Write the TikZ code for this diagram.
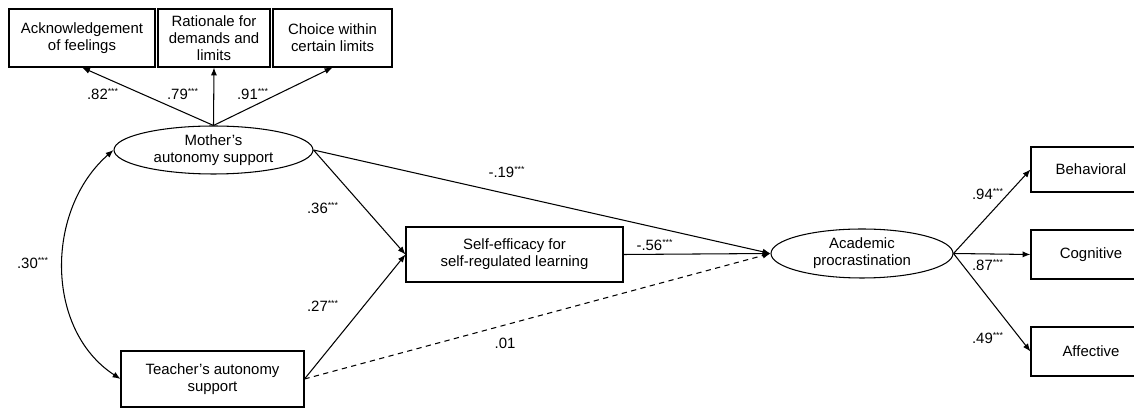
\documentclass[tikz,border=0pt]{standalone}
\usepackage{fontspec}
\setmainfont{Liberation Sans}
\usetikzlibrary{shapes.geometric,arrows.meta}

\tikzset{
  box/.style={draw, rectangle, inner sep=1pt, align=center, font=\fontsize{8.5}{9.8}\selectfont},
  latent/.style={draw, ellipse, inner sep=0pt, align=center, font=\fontsize{8.5}{9.8}\selectfont},
  path/.style={-{Latex[length=4.5pt,width=3.5pt]}, line width=0.6pt},
  coef/.style={font=\fontsize{8.5}{9.8}\selectfont, inner sep=0pt}
}
\newcommand{\sig}{\textsuperscript{\fontsize{5}{5}\selectfont***}}

\begin{document}
\begin{tikzpicture}[x=0.02cm, y=-0.02cm, line width=0.6pt]
			\useasboundingbox (0,0) rectangle (1134,408);

			% Indicators of mother's autonomy support
			\node[box, minimum width=2.92cm, minimum height=1.16cm] (ack) at (82,38) {Acknowledgement\\of feelings};
			\node[box, minimum width=2.24cm, minimum height=1.16cm] (rat) at (214,38) {Rationale for\\demands and\\limits};
			\node[box, minimum width=2.38cm, minimum height=1.16cm] (cho) at (332.5,38) {Choice within\\certain limits};

			% Latent variables and observed variables
			\node[latent, minimum width=3.98cm, minimum height=0.96cm] (mother) at (213.5,150) {Mother's\\autonomy support};
			\node[box, minimum width=3.66cm, minimum height=1.12cm] (teacher) at (212.5,379) {Teacher's autonomy\\support};
			\node[box, minimum width=4.34cm, minimum height=1.10cm] (self) at (514.5,254.5) {Self-efficacy for\\self-regulated learning};
			\node[latent, minimum width=3.64cm, minimum height=0.98cm] (acad) at (862,253.5) {Academic\\procrastination};

			% Indicators of academic procrastination
			\node[box, minimum width=2.4cm, minimum height=0.9cm] (beh) at (1091,169.5) {Behavioral};
			\node[box, minimum width=2.4cm, minimum height=0.98cm] (cog) at (1091,254.5) {Cognitive};
			\node[box, minimum width=2.4cm, minimum height=0.98cm] (aff) at (1091,351.5) {Affective};

			% Loadings
			\draw[path] (mother.north) -- (ack.south);
			\draw[path] (mother.north) -- (rat.south);
			\draw[path] (mother.north) -- (cho.south);
			\draw[path] (acad.east) -- (beh.west);
			\draw[path] (acad.east) -- (cog.west);
			\draw[path] (acad.east) -- (aff.west);

			% Structural paths
			\draw[path] (mother.east) -- (self.west);
			\draw[path] (teacher.east) -- (self.west);
			\draw[path] (mother.east) -- (acad.west);
			\draw[path] (self.east) -- (acad.west);
			\draw[path, dash pattern=on 3pt off 2.5pt] (teacher.east) -- (acad.west);

			% Covariance
			\draw[{Latex[length=4.5pt,width=3.5pt]}-{Latex[length=4.5pt,width=3.5pt]}] (mother.west) .. controls (45,210) and (45,330) .. (teacher.west);

			% Coefficients
			\node[coef] (l82) at (103,94) {.82\sig};
			\node[coef] (l79) at (183,94) {.79\sig};
			\node[coef] (l91) at (253,94) {.91\sig};
			\node[coef] (l30) at (33,263) {.30\sig};
			\node[coef] (l36) at (323,208) {.36\sig};
			\node[coef] (l27) at (323,306) {.27\sig};
			\node[coef] (l19) at (507,172) {-.19\sig};
			\node[coef] (l56) at (655,245) {-.56\sig};
			\node[coef] (l01) at (505,343) {.01};
			\node[coef] (l94) at (988,194) {.94\sig};
			\node[coef] (l87) at (988,265) {.87\sig};
			\node[coef] (l49) at (988,338) {.49\sig};
		\end{tikzpicture}
\end{document}
